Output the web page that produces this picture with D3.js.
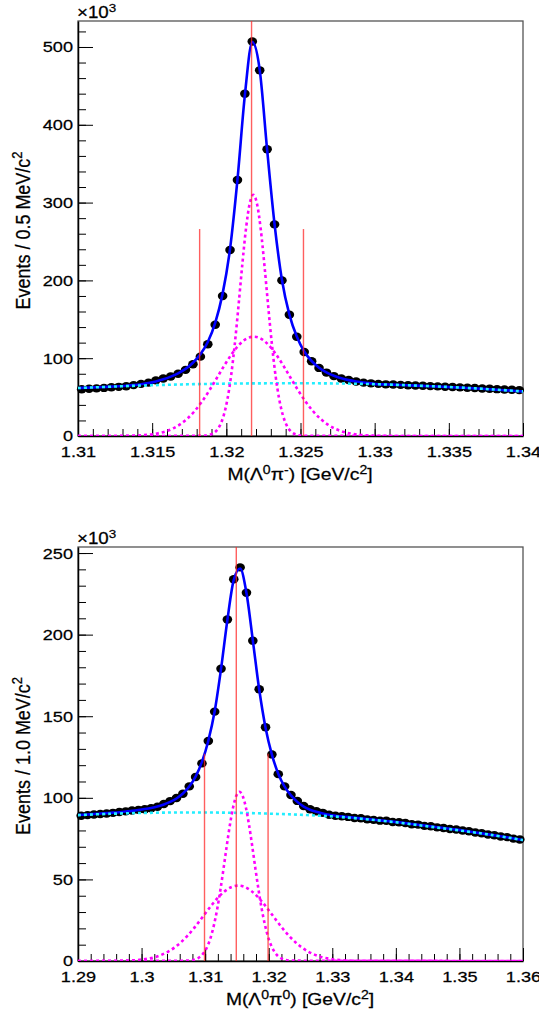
<!doctype html>
<html>
<head>
<meta charset="UTF-8">
<title>Lambda pi invariant mass fits</title>
<script src="https://d3js.org/d3.v7.min.js"></script>
<style>
  body { margin: 0; background: #fff; }
  text { font-family: "Liberation Sans", Arial, Helvetica, sans-serif; }
</style>
</head>
<body>
<svg id="chart" width="539" height="1023"></svg>
<script>

// ---------- top panel : M(Lambda0 pi-) ----------
var topRange = [1.31, 1.34];
var topBinW = 0.0005;
var topYmax = 533.4;
var topXTicks = [1.31, 1.315, 1.32, 1.325, 1.33, 1.335, 1.34];
var topYTicks = [0, 100, 200, 300, 400, 500];

var topCounts = [60.0, 60.8, 61.2, 61.8, 62.6, 63.2, 64.0, 65.4, 67.0, 68.6,
                 71.5, 74.0, 76.5, 80.0, 85.0, 92.3, 102.0, 118.0, 143.0, 180.0,
                 239.0, 329.0, 440.0, 507.0, 470.0, 368.5, 272.0, 200.0, 155.8, 127.5,
                 108.0, 96.0, 87.5, 81.5, 77.0, 74.0, 72.0, 70.0, 68.6, 67.7,
                 67.0, 66.4, 66.2, 65.7, 65.3, 65.0, 64.5, 64.1, 63.8, 63.3,
                 62.9, 62.5, 62.0, 61.6, 61.1, 60.7, 60.2, 59.8, 59.4, 59.0];

var topFit = [61.8, 62.2, 62.6, 63.0, 63.5, 64.0, 64.6, 65.4, 66.5, 68.0,
              70.1, 72.8, 76.3, 80.6, 86.3, 94.2, 105.0, 120.8, 145.5, 183.0,
              240.5, 329.5, 438.0, 506.5, 470.5, 368.0, 272.5, 200.5, 156.0, 127.8,
              108.6, 96.4, 87.8, 81.8, 77.4, 74.2, 71.8, 70.1, 68.8, 67.6,
              66.6, 66.3, 66.0, 65.6, 65.2, 64.8, 64.4, 64.0, 63.6, 63.2,
              62.7, 62.2, 61.7, 61.2, 60.7, 60.1, 59.5, 58.9, 58.3, 57.6];
var topFitEnds = [61.6, 57.3];

var topBkgX = [1.31, 1.3125, 1.315, 1.3175, 1.32, 1.3225, 1.325, 1.3275, 1.33, 1.3325, 1.335, 1.3375, 1.34];
var topBkg  = [61.6, 63.6, 65.3, 66.5, 67.3, 67.7, 67.8, 67.5, 66.6, 65.0, 63.0, 60.4, 57.3];

// narrow gaussian, sampled every 0.00025 around its mean
var topNarrowMean = 1.32182, topNarrowStep = 0.00025;
var topNarrow = [0.16, 0.46, 1.2, 2.9, 6.5, 13.6, 26.3, 46.8, 77.3, 118.2, 167.2, 219.1, 265.7, 298.3,
                 310.0,
                 298.3, 265.7, 219.1, 167.2, 118.2, 77.3, 46.8, 26.3, 13.6, 6.5, 2.9, 1.2, 0.46, 0.16];
// wide gaussian, sampled every 0.0005 around its mean
var topWideMean = 1.32185, topWideStep = 0.0005;
var topWide = [0.1, 0.24, 0.49, 0.97, 1.8, 3.3, 5.6, 9.2, 14.6, 22.0, 31.8, 44.1, 58.4, 74.2, 90.2, 105.0, 117.0, 124.9,
               127.6,
               124.9, 117.0, 105.0, 90.2, 74.2, 58.4, 44.1, 31.8, 22.0, 14.6, 9.2, 5.6, 3.3, 1.8, 0.97, 0.49, 0.24, 0.1];

var topCuts = [1.3182, 1.3217, 1.3252];
var topCutTops = [266, topYmax, 266];

// ---------- bottom panel : M(Lambda0 pi0) ----------
var botRange = [1.29, 1.36];
var botBinW = 0.001;
var botYmax = 253.7;
var botXTicks = [1.29, 1.30, 1.31, 1.32, 1.33, 1.34, 1.35, 1.36];
var botYTicks = [0, 50, 100, 150, 200, 250];

var botCounts = [89.0, 89.4, 89.8, 90.1, 90.4, 90.8, 91.3, 91.7, 92.2, 92.6,
                 93.0, 93.6, 94.5, 96.2, 98.0, 99.9, 102.5, 107.0, 112.8, 121.1,
                 134.8, 152.8, 179.1, 209.3, 233.9, 241.2, 225.7, 196.3, 166.5, 143.2,
                 126.6, 114.5, 107.0, 101.7, 98.1, 95.0, 93.0, 91.8, 90.8, 89.6,
                 89.0, 88.7, 88.3, 87.6, 87.5, 86.8, 86.5, 86.0, 85.9, 85.2,
                 85.0, 84.6, 83.8, 83.6, 82.8, 82.6, 81.9, 81.5, 80.9, 80.6,
                 80.0, 79.5, 78.7, 78.3, 77.5, 77.1, 76.3, 75.9, 75.0, 74.5];

var botFit = [89.6, 89.8, 90.1, 90.4, 90.6, 90.9, 91.2, 91.6, 92.0, 92.5,
              93.1, 93.8, 94.7, 95.9, 97.5, 99.6, 102.6, 106.9, 113.0, 122.0,
              135.0, 153.0, 179.0, 209.0, 233.5, 240.5, 225.5, 196.5, 166.5, 143.0,
              126.5, 114.8, 106.9, 101.5, 97.5, 94.6, 92.7, 91.4, 90.4, 89.6,
              89.0, 88.6, 88.2, 87.8, 87.4, 87.0, 86.6, 86.2, 85.8, 85.4,
              85.0, 84.5, 84.0, 83.5, 83.0, 82.5, 82.0, 81.5, 81.0, 80.5,
              80.0, 79.4, 78.8, 78.2, 77.6, 77.0, 76.4, 75.8, 75.1, 74.4];
var botFitEnds = [89.5, 74.1];

var botBkgX = [1.29, 1.295, 1.30, 1.305, 1.31, 1.315, 1.32, 1.325, 1.33, 1.335, 1.34, 1.345, 1.35, 1.355, 1.36];
var botBkg  = [89.4, 90.2, 90.7, 91.0, 91.0, 90.8, 90.3, 89.6, 88.6, 87.0, 85.0, 82.5, 80.0, 77.3, 74.1];

var botNarrowMean = 1.3154, botNarrowStep = 0.0005;
var botNarrow = [0.22, 0.46, 0.93, 1.8, 3.2, 5.7, 9.4, 14.8, 22.3, 31.9, 43.6, 56.8, 70.6, 83.5, 94.2, 101.2,
                 103.7,
                 101.2, 94.2, 83.5, 70.6, 56.8, 43.6, 31.9, 22.3, 14.8, 9.4, 5.7, 3.2, 1.8, 0.93, 0.46, 0.22];
var botWideMean = 1.3152, botWideStep = 0.001;
var botWide = [0.18, 0.33, 0.57, 0.97, 1.6, 2.5, 3.9, 5.8, 8.3, 11.5, 15.4, 19.9, 24.9, 30.1, 35.1, 39.6, 43.1, 45.4,
               46.2,
               45.4, 43.1, 39.6, 35.1, 30.1, 24.9, 19.9, 15.4, 11.5, 8.3, 5.8, 3.9, 2.5, 1.6, 0.97, 0.57, 0.33, 0.18];

var botCuts = [1.3099, 1.3149, 1.3199];
var botCutTops = [127, botYmax, 127];


var svg = d3.select("#chart");
var frameL = 78, frameR = 523;
var SX = 1.17;   // text in the reference is a little wide

function binCentres(range, w, n) {
    return d3.range(n).map(function(i) { return range[0] + w * (i + 0.5); });
}

function gaussPoints(mean, step, vals, range) {
    var h = (vals.length - 1) / 2;
    var pts = vals.map(function(v, i) { return [mean + (i - h) * step, v]; });
    return [[range[0], 0]].concat(pts, [[range[1], 0]]);
}

function fmtX(d) { return String(+d.toFixed(4)); }

function heavy(sel) {
    return sel.attr("fill", "#000").attr("stroke", "#000").attr("stroke-width", 0.25);
}

function drawPanel(p) {
    var x = d3.scaleLinear().domain(p.range).range([frameL, frameR]);
    var y = d3.scaleLinear().domain([0, p.ymax]).range([p.bottom, p.top]);
    var g = svg.append("g");

    g.append("rect")
        .attr("x", frameL).attr("y", p.top)
        .attr("width", frameR - frameL).attr("height", p.bottom - p.top)
        .attr("fill", "none").attr("stroke", "#555").attr("stroke-width", 1.3);

    svg.append("clipPath").attr("id", "clip" + p.id)
        .append("rect")
        .attr("x", frameL).attr("y", p.top)
        .attr("width", frameR - frameL).attr("height", p.bottom - p.top);

    // axes
    var minorX = d3.range(p.range[0], p.range[1] + p.minorXStep / 2, p.minorXStep);
    var minorY = d3.range(0, p.ymax, p.minorYStep);

    g.append("g").attr("transform", "translate(0," + p.bottom + ")")
        .call(d3.axisBottom(x).tickValues(minorX).tickSize(-7).tickSizeOuter(0).tickFormat(""))
        .call(function(a) { a.select(".domain").remove(); });
    var xa = g.append("g").attr("transform", "translate(0," + p.bottom + ")")
        .call(d3.axisBottom(x).tickValues(p.xticks).tickSize(-13).tickSizeOuter(0)
              .tickPadding(10.5).tickFormat(fmtX));
    g.append("g").attr("transform", "translate(" + frameL + ",0)")
        .call(d3.axisLeft(y).tickValues(minorY).tickSize(-8).tickSizeOuter(0).tickFormat(""))
        .call(function(a) { a.select(".domain").remove(); });
    var ya = g.append("g").attr("transform", "translate(" + frameL + ",0)")
        .call(d3.axisLeft(y).tickValues(p.yticks).tickSize(-15).tickSizeOuter(0).tickPadding(5));

    g.selectAll(".tick line").attr("stroke", "#000").attr("stroke-width", 1);
    [xa, ya].forEach(function(a) {
        a.attr("font-size", 15.5).attr("font-family", null).attr("color", "#000");
        a.select(".domain").attr("stroke-width", 1.5);
        heavy(a.selectAll("text"));
    });
    xa.selectAll("text").attr("transform", "scale(" + SX + ",1)");
    ya.selectAll("text").attr("x", -5 / SX).attr("transform", "scale(" + SX + ",1)");

    // data points
    var xs = binCentres(p.range, p.binW, p.counts.length);
    g.append("g").selectAll("ellipse")
        .data(p.counts)
        .join("ellipse")
        .attr("cx", function(d, i) { return x(xs[i]); })
        .attr("cy", function(d) { return y(d); })
        .attr("rx", 4.8).attr("ry", 4.2)
        .attr("fill", "#000");

    var plot = g.append("g").attr("clip-path", "url(#clip" + p.id + ")");
    var line = d3.line()
        .x(function(d) { return x(d[0]); })
        .y(function(d) { return y(d[1]); })
        .curve(d3.curveMonotoneX);

    var fitPts = [[p.range[0], p.fitEnds[0]]]
        .concat(p.fit.map(function(v, i) { return [xs[i], v]; }), [[p.range[1], p.fitEnds[1]]]);
    plot.append("path").attr("d", line(fitPts))
        .attr("fill", "none").attr("stroke", "#0000ff").attr("stroke-width", 2.6);

    var bkgPts = p.bkgX.map(function(v, i) { return [v, p.bkg[i]]; });
    plot.append("path").attr("d", line.curve(d3.curveCatmullRom)(bkgPts))
        .attr("fill", "none").attr("stroke", "#22eeff").attr("stroke-width", 2.6)
        .attr("stroke-dasharray", "3,3");
    line.curve(d3.curveMonotoneX);

    [gaussPoints(p.nMean, p.nStep, p.narrow, p.range),
     gaussPoints(p.wMean, p.wStep, p.wide, p.range)].forEach(function(pts) {
        plot.append("path").attr("d", line(pts))
            .attr("fill", "none").attr("stroke", "#ff00ff").attr("stroke-width", 2.6)
            .attr("stroke-dasharray", "3,3");
    });

    // signal window lines
    g.append("g").selectAll("line")
        .data(p.cuts)
        .join("line")
        .attr("x1", function(d) { return x(d); }).attr("x2", function(d) { return x(d); })
        .attr("y1", y(0))
        .attr("y2", function(d, i) { return y(p.cutTops[i]); })
        .attr("stroke", "#ff2a2a").attr("stroke-opacity", 0.75).attr("stroke-width", 1.4);

    // exponent label
    var ex = heavy(g.append("text"))
        .attr("transform", "translate(" + (frameL - 1) + "," + (p.top - 3) + ") scale(" + SX + ",1)")
        .attr("font-size", 16);
    ex.append("tspan").text("\u00d710");
    ex.append("tspan").attr("font-size", 11.5).attr("dy", -6.5).text("3");

    // y title
    var yt = heavy(g.append("text"))
        .attr("transform", "translate(30," + ((p.top + p.bottom) / 2 + 2) + ") scale(1.08,1) rotate(-90)")
        .attr("text-anchor", "middle").attr("font-size", 18);
    yt.append("tspan").text(p.ytitle);
    yt.append("tspan").attr("font-size", 13).attr("dy", -7).text("2");

    // x title
    var xt = heavy(g.append("text"))
        .attr("transform", "translate(300," + (p.bottom + 44) + ") scale(" + SX + ",1)")
        .attr("text-anchor", "middle").attr("font-size", 16.5);
    xt.append("tspan").text("M(\u039b");
    xt.append("tspan").attr("font-size", 12).attr("dy", -6.5).text("0");
    xt.append("tspan").attr("dy", 6.5).text("\u03c0");
    xt.append("tspan").attr("font-size", 12).attr("dy", -6.5).text(p.pionCharge);
    xt.append("tspan").attr("dy", 6.5).text(") [GeV/c");
    xt.append("tspan").attr("font-size", 12).attr("dy", -6.5).text("2");
    xt.append("tspan").attr("dy", 6.5).text("]");
}

drawPanel({
    id: "top", top: 21, bottom: 436,
    range: topRange, ymax: topYmax, binW: topBinW,
    xticks: topXTicks, yticks: topYTicks, minorXStep: 0.001, minorYStep: 20,
    counts: topCounts, fit: topFit, fitEnds: topFitEnds,
    bkgX: topBkgX, bkg: topBkg,
    nMean: topNarrowMean, nStep: topNarrowStep, narrow: topNarrow,
    wMean: topWideMean, wStep: topWideStep, wide: topWide,
    cuts: topCuts, cutTops: topCutTops,
    ytitle: "Events / 0.5 MeV/c", pionCharge: "-"
});

drawPanel({
    id: "bot", top: 547, bottom: 961,
    range: botRange, ymax: botYmax, binW: botBinW,
    xticks: botXTicks, yticks: botYTicks, minorXStep: 0.002, minorYStep: 10,
    counts: botCounts, fit: botFit, fitEnds: botFitEnds,
    bkgX: botBkgX, bkg: botBkg,
    nMean: botNarrowMean, nStep: botNarrowStep, narrow: botNarrow,
    wMean: botWideMean, wStep: botWideStep, wide: botWide,
    cuts: botCuts, cutTops: botCutTops,
    ytitle: "Events / 1.0 MeV/c", pionCharge: "0"
});

</script>
</body>
</html>
